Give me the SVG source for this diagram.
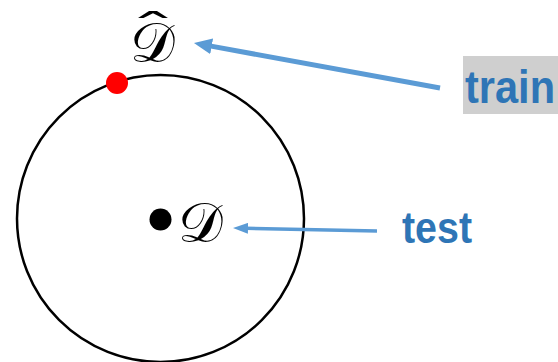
<svg xmlns="http://www.w3.org/2000/svg" width="558" height="362" viewBox="0 0 558 362">
<style>
.lbl{font-family:"Liberation Sans","Open Sans",sans-serif;font-weight:bold;fill:#2e75b6}
.dd{font-family:"DejaVu Serif","Liberation Serif",serif;fill:#000}
.arr{stroke:#5b9bd5;fill:none}
</style>
<defs>
<marker id="ah1" markerUnits="userSpaceOnUse" markerWidth="18" markerHeight="16" viewBox="0 -8 18 16" refX="2" refY="0" orient="auto"><path d="M0,-8 L18,0 L0,8 z" fill="#5b9bd5"/></marker>
<marker id="ah2" markerUnits="userSpaceOnUse" markerWidth="15" markerHeight="11" viewBox="0 -5.5 15 11" refX="2" refY="0" orient="auto"><path d="M0,-5.5 L15,0 L0,5.5 z" fill="#5b9bd5"/></marker>
</defs>
<rect width="558" height="362" fill="#fff"/>
<g id="circle"><circle cx="160.5" cy="218.5" r="143.5" fill="none" stroke="#000" stroke-width="2.5"/></g>
<g id="train-point"><circle cx="117" cy="83" r="11" fill="#ff0000"/></g>
<g id="test-point"><circle cx="160.5" cy="219.5" r="11" fill="#000"/></g>
<g id="dhat">
<text class="dd" x="130" y="62" font-size="56">𝒟</text>
<text class="dd" x="0" y="0" font-size="40" transform="translate(153,42) scale(2.4,1)" text-anchor="middle">ˆ</text>
</g>
<g id="d"><text class="dd" x="178" y="242" font-size="56">𝒟</text></g>
<g id="train"><rect x="463" y="56" width="95" height="58" fill="#cfcfcf"/><text class="lbl" x="465" y="103" font-size="46" textLength="90" lengthAdjust="spacingAndGlyphs">train</text></g>
<g id="test"><text class="lbl" x="402" y="243" font-size="44" textLength="70" lengthAdjust="spacingAndGlyphs">test</text></g>
<g id="connectors">
<line class="arr" x1="440" y1="88" x2="209.7" y2="45.9" stroke-width="5" marker-end="url(#ah1)"/>
<line class="arr" x1="377" y1="231" x2="246" y2="228.3" stroke-width="3.5" marker-end="url(#ah2)"/>
</g>
</svg>
